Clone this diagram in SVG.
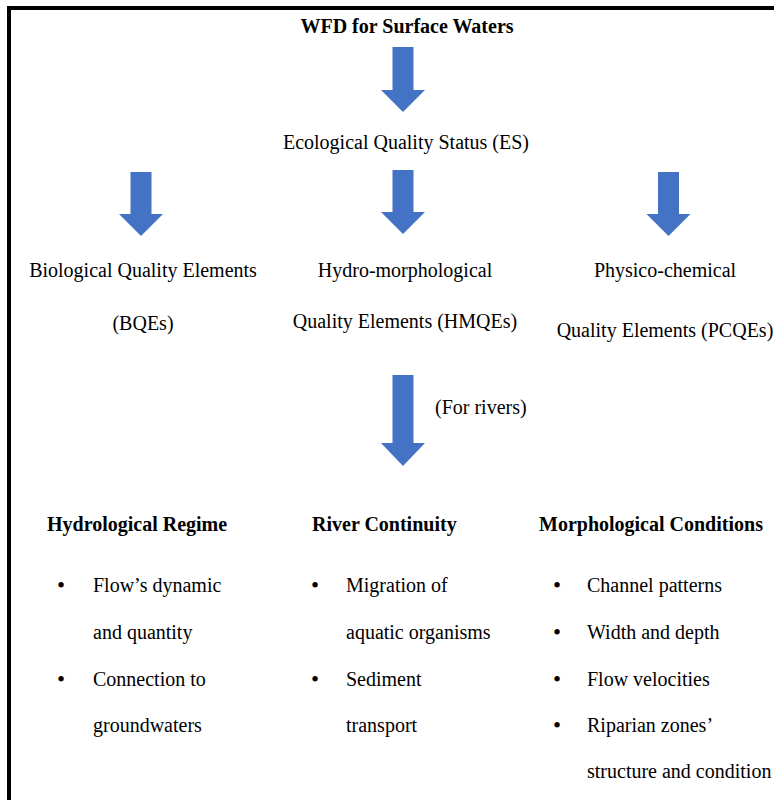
<svg xmlns="http://www.w3.org/2000/svg" width="774" height="800" viewBox="0 0 774 800">
<style>
text{font-family:"Liberation Serif","Times New Roman",serif;font-size:20px;fill:#000}
.b{font-weight:bold}
.bul{font-size:23px;text-anchor:middle}
.arrow{fill:#4472C4}
</style>
<rect x="0" y="0" width="774" height="800" fill="#fff"/>
<path d="M9,802 V8 H776" fill="none" stroke="#000" stroke-width="4"/>
<g id="connectors">
<path class="arrow" d="M392.5,47 H413.5 V90 H425 L403,112 L381,90 H392.5 Z"/>
<path class="arrow" d="M130.5,172 H151.5 V214 H163 L141,236 L119,214 H130.5 Z"/>
<path class="arrow" d="M392.5,170 H413.5 V212 H425 L403,234 L381,212 H392.5 Z"/>
<path class="arrow" d="M658,172 H679 V214 H690.5 L668.5,236 L646.5,214 H658 Z"/>
<path class="arrow" d="M392.5,375 H413.5 V443 H425 L403,466 L381,443 H392.5 Z"/>
<text x="435" y="414">(For rivers)</text>
</g>
<g id="title"><text class="b" x="407" y="33" text-anchor="middle">WFD for Surface Waters</text></g>
<g id="es"><text x="406" y="149" text-anchor="middle">Ecological Quality Status (ES)</text></g>
<g id="bqe">
<text x="143" y="277" text-anchor="middle">Biological Quality Elements</text>
<text x="143" y="330" text-anchor="middle">(BQEs)</text>
</g>
<g id="hmqe">
<text x="405" y="277" text-anchor="middle">Hydro-morphological</text>
<text x="405" y="328" text-anchor="middle">Quality Elements (HMQEs)</text>
</g>
<g id="pcqe">
<text x="665" y="277" text-anchor="middle">Physico-chemical</text>
<text x="665" y="337" text-anchor="middle">Quality Elements (PCQEs)</text>
</g>
<g id="hydro">
<text class="b" x="47" y="531">Hydrological Regime</text>
<text class="bul" x="61" y="593">•</text><text x="93" y="592">Flow’s dynamic</text>
<text x="93" y="639">and quantity</text>
<text class="bul" x="61" y="687">•</text><text x="93" y="686">Connection to</text>
<text x="93" y="732">groundwaters</text>
</g>
<g id="river">
<text class="b" x="312" y="531">River Continuity</text>
<text class="bul" x="315" y="593">•</text><text x="346" y="592">Migration of</text>
<text x="346" y="639">aquatic organisms</text>
<text class="bul" x="315" y="687">•</text><text x="346" y="686">Sediment</text>
<text x="346" y="732">transport</text>
</g>
<g id="morpho">
<text class="b" x="539" y="531">Morphological Conditions</text>
<text class="bul" x="557" y="593">•</text><text x="587" y="592">Channel patterns</text>
<text class="bul" x="557" y="640">•</text><text x="587" y="639">Width and depth</text>
<text class="bul" x="557" y="687">•</text><text x="587" y="686">Flow velocities</text>
<text class="bul" x="557" y="733">•</text><text x="587" y="732">Riparian zones’</text>
<text x="587" y="778">structure and condition</text>
</g>
</svg>
